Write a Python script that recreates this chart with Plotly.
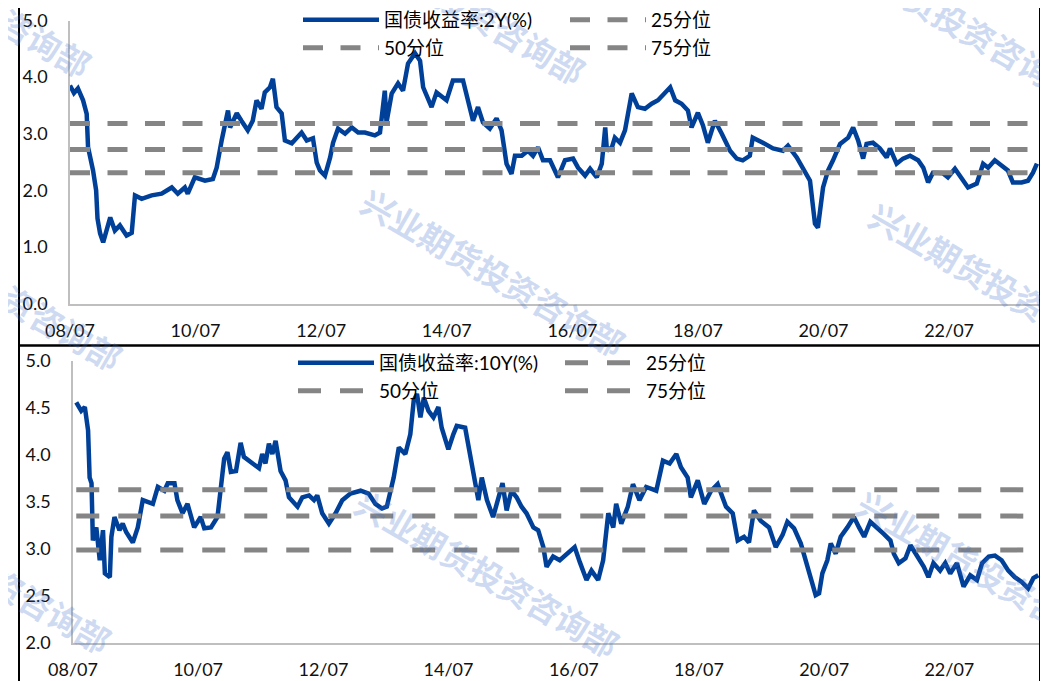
import plotly.graph_objects as go

W, H = 1048, 681
OFF = 8  # the page body margin shifts the figure by this many pixels

# ---------------- data ----------------
dates_2y = [
    "2008-07-01","2008-07-24","2008-08-16","2008-09-15","2008-10-06","2008-10-14","2008-11-12","2008-11-30","2008-12-08","2008-12-23",
    "2009-01-10","2009-02-03","2009-02-20","2009-03-19","2009-04-17","2009-05-26","2009-06-25","2009-07-14","2009-08-22","2009-10-19",
    "2009-12-16","2010-02-13","2010-03-20","2010-04-30","2010-05-17","2010-06-27","2010-08-25","2010-10-10","2010-11-01","2010-11-30",
    "2011-01-06","2011-01-18","2011-02-26","2011-03-25","2011-05-01","2011-05-30","2011-06-21","2011-07-20","2011-08-08","2011-09-07",
    "2011-09-24","2011-10-15","2011-11-14","2011-12-03","2012-01-12","2012-03-09","2012-04-08","2012-05-14","2012-06-05","2012-06-24",
    "2012-07-23","2012-08-22","2012-09-08","2012-10-07","2012-11-17","2012-12-26","2013-02-01","2013-03-12","2013-05-09","2013-06-08",
    "2013-07-06","2013-07-16","2013-08-15","2013-09-21","2013-10-20","2013-11-18","2013-12-29","2014-01-27","2014-02-14","2014-04-04",
    "2014-05-03","2014-06-30","2014-08-06","2014-10-04","2014-11-14","2014-12-01","2014-12-30","2015-01-28","2015-03-09","2015-04-17",
    "2015-05-16","2015-06-14","2015-07-13","2015-08-02","2015-09-10","2015-10-16","2015-11-15","2015-12-14","2016-01-12","2016-02-22",
    "2016-04-08","2016-05-19","2016-07-05","2016-08-03","2016-09-13","2016-10-12","2016-11-20","2016-12-19","2017-01-08","2017-01-18",
    "2017-02-16","2017-03-05","2017-04-04","2017-05-03","2017-06-11","2017-07-17","2017-08-27","2017-10-05","2017-11-11","2017-12-22",
    "2018-01-21","2018-02-19","2018-03-28","2018-05-04","2018-05-25","2018-07-01","2018-07-30","2018-08-28","2018-10-08","2018-11-17",
    "2019-01-04","2019-02-12","2019-03-19","2019-04-29","2019-05-16","2019-07-14","2019-09-11","2019-11-08","2019-12-07","2020-01-27",
    "2020-03-03","2020-04-13","2020-05-12","2020-05-29","2020-06-28","2020-07-27","2020-08-25","2020-10-05","2020-11-21","2020-12-20",
    "2021-01-18","2021-02-16","2021-03-08","2021-04-14","2021-05-24","2021-07-03","2021-07-22","2021-08-30","2021-10-06","2021-11-16",
    "2022-01-02","2022-02-01","2022-03-01","2022-03-29","2022-05-26","2022-06-24","2022-08-04","2022-09-20","2022-10-19","2022-12-09",
    "2023-01-15","2023-02-13","2023-03-24","2023-05-02","2023-06-08","2023-07-07","2023-08-27","2023-10-03","2023-11-01","2023-11-24",
]
yield_2y = [
    3.85,3.72,3.80,3.59,3.35,2.76,2.35,2.00,1.50,1.24,
    1.08,1.35,1.52,1.29,1.38,1.20,1.25,1.91,1.85,1.91,
    1.94,2.05,1.94,2.05,1.94,2.23,2.17,2.20,2.40,2.88,
    3.41,3.11,3.36,3.23,3.06,3.23,3.59,3.44,3.73,3.82,
    3.97,3.47,3.36,2.88,2.83,3.02,2.88,2.92,2.49,2.35,
    2.26,2.58,2.84,3.09,3.00,3.11,3.02,3.02,2.97,3.02,
    3.76,3.20,3.71,3.89,3.76,4.24,4.42,4.29,3.82,3.47,
    3.73,3.59,3.94,3.94,3.47,3.23,3.47,3.20,3.09,3.27,
    3.06,2.47,2.29,2.61,2.61,2.70,2.61,2.76,2.53,2.53,
    2.23,2.53,2.56,2.40,2.26,2.38,2.23,2.47,3.11,2.70,
    2.76,2.93,2.84,3.06,3.71,3.47,3.44,3.53,3.59,3.73,
    3.82,3.59,3.53,3.41,3.11,3.37,3.15,2.84,3.23,3.00,
    2.70,2.56,2.53,2.61,2.93,2.84,2.74,2.70,2.79,2.58,
    2.40,2.17,1.41,1.34,2.05,2.35,2.53,2.82,2.93,3.11,
    2.88,2.56,2.82,2.84,2.74,2.58,2.74,2.47,2.56,2.61,
    2.53,2.40,2.14,2.31,2.30,2.23,2.38,2.17,2.05,2.12,
    2.47,2.40,2.53,2.44,2.35,2.14,2.14,2.17,2.31,2.47,
]

dates_10y = [
    "2008-07-20","2008-08-18","2008-09-08","2008-09-27","2008-10-06","2008-10-17","2008-10-25","2008-11-14","2008-12-04","2008-12-23",
    "2009-01-03","2009-02-01","2009-02-10","2009-02-28","2009-03-29","2009-04-17","2009-05-07","2009-06-15","2009-07-14","2009-08-12",
    "2009-10-10","2009-11-08","2009-12-16","2010-01-05","2010-02-13","2010-03-02","2010-04-01","2010-04-30","2010-06-08","2010-07-16",
    "2010-08-06","2010-09-14","2010-10-22","2010-11-11","2010-11-30","2010-12-19","2011-01-08","2011-02-07","2011-03-06","2011-03-25",
    "2011-05-13","2011-06-21","2011-07-10","2011-07-29","2011-08-18","2011-09-07","2011-09-26","2011-10-25","2011-11-23","2011-12-13",
    "2012-02-01","2012-02-29","2012-04-08","2012-05-07","2012-05-26","2012-06-24","2012-08-02","2012-09-10","2012-10-19","2012-12-06",
    "2013-02-03","2013-03-22","2013-04-30","2013-06-08","2013-07-06","2013-08-15","2013-09-14","2013-10-22","2013-11-20","2013-12-10",
    "2013-12-29","2014-01-18","2014-02-07","2014-03-06","2014-04-04","2014-05-03","2014-05-22","2014-06-30","2014-07-29","2014-08-18",
    "2014-10-06","2014-11-04","2014-12-03","2014-12-22","2015-01-11","2015-02-10","2015-03-18","2015-04-17","2015-05-12","2015-06-05",
    "2015-07-03","2015-08-02","2015-08-31","2015-09-29","2015-11-08","2015-12-06","2016-01-05","2016-01-24","2016-03-02","2016-04-10",
    "2016-05-19","2016-07-06","2016-08-05","2016-09-13","2016-10-12","2016-11-20","2016-12-19","2017-01-18","2017-02-16","2017-03-05",
    "2017-04-04","2017-05-12","2017-06-11","2017-07-19","2017-08-27","2017-10-25","2017-12-03","2018-01-11","2018-02-19","2018-03-18",
    "2018-04-26","2018-05-15","2018-06-24","2018-08-01","2018-09-10","2018-10-18","2018-12-06","2019-01-14","2019-02-12","2019-03-21",
    "2019-04-19","2019-05-18","2019-06-26","2019-08-14","2019-09-22","2019-11-01","2019-11-29","2020-01-07","2020-02-15","2020-03-15",
    "2020-04-13","2020-05-12","2020-06-01","2020-06-20","2020-07-19","2020-08-08","2020-09-06","2020-10-05","2020-11-13","2020-12-21",
    "2021-01-20","2021-02-19","2021-03-27","2021-05-05","2021-06-13","2021-07-22","2021-08-11","2021-09-09","2021-10-18","2021-11-16",
    "2021-12-25","2022-02-02","2022-03-01","2022-03-30","2022-05-08","2022-06-07","2022-07-06","2022-08-14","2022-09-22","2022-10-31",
    "2022-12-09","2023-01-08","2023-02-16","2023-03-24","2023-05-02","2023-06-10","2023-07-18","2023-08-27","2023-10-04","2023-11-03",
    "2023-12-02",
]
yield_10y = [
    4.56,4.47,4.51,4.26,3.76,3.70,3.09,3.23,2.88,3.20,
    2.74,2.70,3.13,3.34,3.20,3.27,3.18,3.07,3.23,3.52,
    3.48,3.66,3.62,3.70,3.70,3.52,3.38,3.48,3.23,3.34,
    3.22,3.23,3.34,3.66,3.96,4.03,3.82,3.83,4.13,3.98,
    3.91,3.86,4.01,3.91,4.12,4.01,4.15,3.83,3.73,3.55,
    3.45,3.55,3.57,3.52,3.57,3.38,3.27,3.38,3.52,3.59,
    3.62,3.59,3.48,3.43,3.45,3.76,4.08,4.01,4.22,4.58,
    4.65,4.40,4.61,4.47,4.40,4.51,4.29,4.06,4.22,4.31,
    4.29,4.01,3.73,3.52,3.76,3.52,3.34,3.52,3.70,3.41,
    3.62,3.55,3.45,3.38,3.23,3.20,3.02,2.81,2.92,2.88,
    2.95,3.02,2.86,2.67,2.77,2.67,2.88,3.38,3.23,3.48,
    3.27,3.45,3.69,3.52,3.66,3.62,3.94,3.91,4.01,3.87,
    3.76,3.55,3.73,3.48,3.62,3.69,3.45,3.38,3.09,3.13,
    3.07,3.41,3.30,3.23,3.02,3.15,3.29,3.22,3.06,2.88,
    2.67,2.51,2.53,2.74,2.88,3.06,2.95,3.13,3.23,3.34,
    3.23,3.13,3.29,3.23,3.16,3.09,2.95,2.85,2.90,3.04,
    2.92,2.81,2.70,2.85,2.77,2.85,2.74,2.85,2.60,2.72,
    2.67,2.85,2.92,2.93,2.88,2.77,2.70,2.65,2.58,2.69,
    2.72,
]

pct_labels = ["25分位", "50分位", "75分位"]
pct_2y = [2.31, 2.72, 3.18]
pct_10y = [2.99, 3.35, 3.63]

name_2y = "国债收益率:2Y(%)"
name_10y = "国债收益率:10Y(%)"

xtick_vals = ["2008-07-01", "2010-07-01", "2012-07-01", "2014-07-01",
              "2016-07-01", "2018-07-01", "2020-07-01", "2022-07-01"]
xtick_text = ["08/07", "10/07", "12/07", "14/07", "16/07", "18/07", "20/07", "22/07"]
x_range = ["2008-07-01", "2023-12-06"]

# ---------------- style ----------------
BLUE = "#004098"
GRAY = "#858585"
AXIS = "#bfbfbf"
FONT = "Lato, 'Noto Sans CJK SC', sans-serif"
CJK = "'Noto Sans CJK SC', sans-serif"


def px_x(x):
    return (x - OFF) / W


def px_y(y):
    return 1 - (y - OFF) / H


fig = go.Figure()

# top panel
fig.add_trace(go.Scatter(x=dates_2y, y=yield_2y, mode="lines", name=name_2y,
                         line=dict(color=BLUE, width=4.5), xaxis="x", yaxis="y",
                         legend="legend"))
for i, (lab, val) in enumerate(zip(pct_labels, pct_2y)):
    fig.add_trace(go.Scatter(x=[dates_2y[0], dates_2y[-1]], y=[val, val], mode="lines",
                             name=lab, line=dict(color=GRAY, width=5, dash="20px,17.5px"),
                             xaxis="x", yaxis="y",
                             legend="legend" if i == 0 else "legend2"))

# bottom panel
fig.add_trace(go.Scatter(x=dates_10y, y=yield_10y, mode="lines", name=name_10y,
                         line=dict(color=BLUE, width=4.5), xaxis="x2", yaxis="y2",
                         legend="legend3"))
for i, (lab, val) in enumerate(zip(pct_labels, pct_10y)):
    fig.add_trace(go.Scatter(x=[dates_10y[0], dates_10y[-1]], y=[val, val], mode="lines",
                             name=lab, line=dict(color=GRAY, width=5, dash="23px,19px"),
                             xaxis="x2", yaxis="y2",
                             legend="legend3" if i == 0 else "legend4"))

xcommon = dict(type="date", range=x_range, tickvals=xtick_vals, ticktext=xtick_text,
               showgrid=False, zeroline=False, showline=True, linecolor=AXIS, linewidth=1.5,
               ticks="", ticklabelstandoff=10,
               tickfont=dict(family=FONT, size=18, color="#111111"))
ycommon = dict(showgrid=False, zeroline=False, showline=True, linecolor=AXIS, linewidth=1.5,
               ticks="", ticklabelstandoff=17, tickformat=".1f",
               tickfont=dict(family=FONT, size=18, color="#111111"))


def leg(y_px, x_px):
    return dict(orientation="h", x=px_x(x_px), xanchor="left", y=px_y(y_px), yanchor="middle",
                font=dict(family=FONT, size=19, color="#000000"), bgcolor="rgba(0,0,0,0)",
                itemwidth=76, entrywidth=176, itemclick=False, itemdoubleclick=False)


# watermark centres in pixels
wm_text = "<b>兴业期货投资咨询部</b>"
wm_pos = [(-41, -7), (453, 0), (950, 18),
          (-10, 286), (493, 272), (1001, 286),
          (-21, 569), (487, 573), (989, 574)]
annotations = [dict(text=wm_text, x=px_x(cx), y=px_y(cy), xref="paper", yref="paper",
                    xanchor="center", yanchor="middle", showarrow=False, textangle=30,
                    font=dict(family=CJK, size=33, color="rgba(60,110,200,0.25)"))
               for cx, cy in wm_pos]

shapes = [
    dict(type="rect", xref="paper", yref="paper", x0=px_x(19), x1=px_x(1040),
         y0=px_y(345.5), y1=px_y(6), line=dict(color="black", width=2)),
    dict(type="rect", xref="paper", yref="paper", x0=px_x(19), x1=px_x(1040),
         y0=px_y(700), y1=px_y(345.5), line=dict(color="black", width=2)),
]

fig.update_layout(
    width=W, height=H, margin=dict(l=0, r=0, t=0, b=0, autoexpand=False),
    paper_bgcolor="white", plot_bgcolor="white",
    xaxis=dict(xcommon, domain=[px_x(70), px_x(1039)], anchor="y"),
    yaxis=dict(ycommon, domain=[px_y(303.5), px_y(20.5)], range=[0, 5], dtick=1, anchor="x"),
    xaxis2=dict(xcommon, domain=[px_x(73), px_x(1039)], anchor="y2"),
    yaxis2=dict(ycommon, domain=[px_y(643), px_y(361)], range=[2, 5], dtick=0.5, anchor="x2"),
    legend=leg(20, 298),
    legend2=leg(48, 298),
    legend3=leg(363, 293),
    legend4=leg(391, 293),
    annotations=annotations,
    shapes=shapes,
)

fig.write_html("out.html")
